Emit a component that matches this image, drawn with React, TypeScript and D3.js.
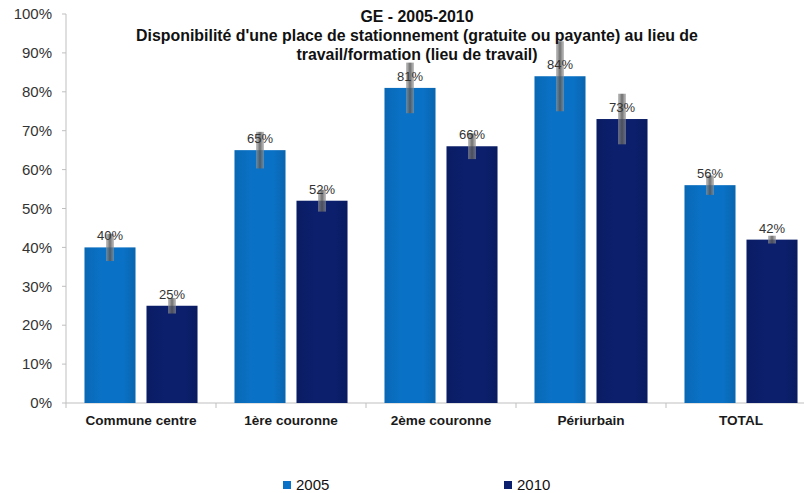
import React from "react";
import * as d3 from "d3";

const categories = ["Commune centre", "1ère couronne", "2ème couronne", "Périurbain", "TOTAL"];
const seriesNames = ["2005", "2010"];
const values2005 = [40, 65, 81, 84, 56];
const values2010 = [25, 52, 66, 73, 42];
const errors2005 = [3.5, 4.7, 6.5, 9, 2.5];
const errors2010 = [2, 2.8, 3.3, 6.5, 1];
const yTicks = [0, 10, 20, 30, 40, 50, 60, 70, 80, 90, 100];
const titleLines = [
  "GE - 2005-2010",
  "Disponibilité d'une place de stationnement (gratuite ou payante) au lieu de",
  "travail/formation (lieu de travail)",
];
const colors = ["#0a72c6", "#0b1f6c"];

const W = 804;
const H = 493;
const left = 66;
const right = 816;
const top = 14;
const bottom = 403;

export default function App() {
  const x0 = d3.scaleBand<string>().domain(categories).range([left, right]).paddingInner(0).paddingOuter(0);
  const x1 = d3
    .scaleBand<string>()
    .domain(seriesNames)
    .range([0, x0.bandwidth()])
    .paddingInner(0.177)
    .paddingOuter(0.298);
  const y = d3.scaleLinear().domain([0, 100]).range([bottom, top]);
  const seriesVals = [values2005, values2010];
  const seriesErr = [errors2005, errors2010];
  const font = "Liberation Sans, Arial, sans-serif";
  const boundaries = categories.map((c) => x0(c)!).concat([right]);

  return (
    <svg width={W} height={H} style={{ position: "absolute", left: 0, top: 0, background: "#fff" }} fontFamily={font}>
      <defs>
        {colors.map((c, i) => (
          <linearGradient key={i} id={`g${i}`} x1="0" x2="1" y1="0" y2="0">
            <stop offset="0" stopColor={d3.color(c)!.darker(0.25).toString()} />
            <stop offset="0.35" stopColor={c} />
            <stop offset="0.75" stopColor={c} />
            <stop offset="1" stopColor={d3.color(c)!.darker(0.35).toString()} />
          </linearGradient>
        ))}
        <linearGradient id="err" x1="0" x2="1" y1="0" y2="0">
          <stop offset="0" stopColor="#9a9a9a" stopOpacity="0.6" />
          <stop offset="0.5" stopColor="#555" stopOpacity="0.85" />
          <stop offset="1" stopColor="#9a9a9a" stopOpacity="0.6" />
        </linearGradient>
      </defs>
      <rect width={W} height={H} fill="#fff" />
      {/* y axis */}
      <line x1={left} x2={left} y1={top} y2={bottom} stroke="#bfbfbf" />
      {yTicks.map((t) => (
        <g key={t}>
          <line x1={left - 4} x2={left} y1={y(t)} y2={y(t)} stroke="#bfbfbf" />
          <text x={52} y={y(t)} dy="0.35em" textAnchor="end" fontSize={15} fill="#333">
            {t}%
          </text>
        </g>
      ))}
      {/* x axis */}
      <line x1={left} x2={W} y1={bottom} y2={bottom} stroke="#bfbfbf" />
      {boundaries.map((b, i) => (
        <line key={i} x1={b} x2={b} y1={bottom} y2={bottom + 5} stroke="#bfbfbf" />
      ))}
      {categories.map((c) => (
        <text
          key={c}
          x={x0(c)! + x0.bandwidth() / 2}
          y={425}
          textAnchor="middle"
          fontSize={13.6}
          fontWeight="bold"
          fill="#1a1a1a"
        >
          {c}
        </text>
      ))}
      {/* bars */}
      {categories.map((c, ci) =>
        seriesNames.map((s, si) => {
          const v = seriesVals[si][ci];
          const e = seriesErr[si][ci];
          const bx = x0(c)! + x1(s)!;
          const bw = x1.bandwidth();
          const cx = bx + bw / 2;
          return (
            <g key={c + s}>
              <rect x={bx} y={y(v)} width={bw} height={bottom - y(v)} fill={`url(#g${si})`} />
              <rect x={cx - 4} y={y(v + e)} width={8} height={y(v - e) - y(v + e)} fill="url(#err)" />
              <text x={cx} y={y(v) - 7} textAnchor="middle" fontSize={13} fill="#333">
                {v}%
              </text>
            </g>
          );
        })
      )}
      {/* title */}
      {titleLines.map((t, i) => (
        <text key={i} x={417} y={22 + i * 19} textAnchor="middle" fontSize={15.9} fontWeight="bold" fill="#111">
          {t}
        </text>
      ))}
      {/* legend */}
      {seriesNames.map((s, i) => {
        const lx = [283, 504][i];
        return (
          <g key={s}>
            <rect x={lx} y={481} width={8} height={8} fill={colors[i]} />
            <text x={lx + 13} y={490} fontSize={15} fill="#111">
              {s}
            </text>
          </g>
        );
      })}
    </svg>
  );
}
